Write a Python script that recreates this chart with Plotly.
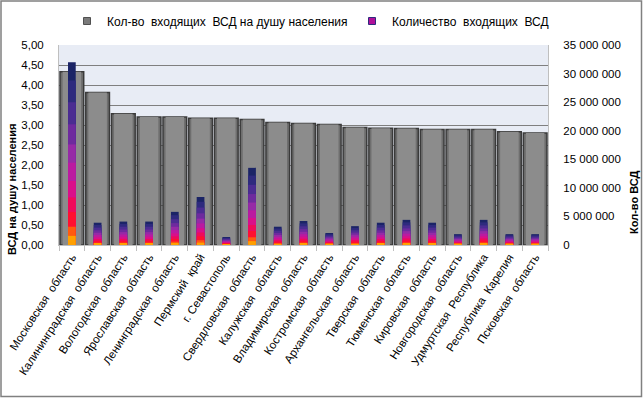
import plotly.graph_objects as go

regions = ["Московская  область", "Калининградская  область", "Вологодская  область",
           "Ярославская  область", "Ленинградская  область", "Пермский  край",
           "г. Севастополь", "Свердловская  область", "Калужская  область",
           "Владимирская  область", "Костромская  область", "Архангельская  область",
           "Тверская  область", "Тюменская  область", "Кировская  область",
           "Новгородская  область", "Удмуртская  Республика", "Республика  Карелия",
           "Псковская  область"]
per_capita = [4.33, 3.81, 3.28, 3.20, 3.20, 3.17, 3.17, 3.14, 3.06, 3.04, 3.01,
              2.94, 2.92, 2.91, 2.89, 2.89, 2.89, 2.83, 2.80]
total_vsd = [32000000, 3900000, 4100000, 4100000, 5800000, 8400000, 1400000,
             13500000, 3200000, 4200000, 2100000, 3300000, 3900000, 4400000,
             3900000, 1900000, 4400000, 1900000, 1900000]
name1 = "Кол-во  входящих  ВСД на душу населения"
name2 = "Количество  входящих  ВСД"

# gradient bands (fraction of bar height, colour) from top to bottom
bands = [(1.00, "#1B2466"), (0.90, "#2E2A7E"), (0.78, "#4B2C92"), (0.66, "#6E2A9E"),
         (0.55, "#962AA6"), (0.45, "#BB1AA0"), (0.35, "#D90F8A"), (0.26, "#F00A5A"),
         (0.18, "#FF1030"), (0.10, "#FF5A10"), (0.05, "#FFA000")]

fig = go.Figure()
fig.add_trace(go.Bar(x=regions, y=per_capita, name=name1, showlegend=False,
                     marker=dict(color="#6E6E6E", line=dict(color="#3A3A3A", width=1.5)),
                     width=0.92, yaxis="y", hoverinfo="skip"))
fig.add_trace(go.Bar(x=regions, y=per_capita, name=name1, showlegend=False,
                     marker=dict(color="#8C8C8C", line=dict(width=0)),
                     width=0.72, yaxis="y"))
for i, (frac, col) in enumerate(bands):
    fig.add_trace(go.Bar(x=regions, y=[v * frac for v in total_vsd],
                         name=name2, showlegend=False,
                         marker=dict(color=col, line=dict(width=0)),
                         width=0.3, yaxis="y2"))
# legend entries with small square symbols
fig.add_trace(go.Scatter(x=[None], y=[None], mode="markers", name=name1, legend="legend",
                         marker=dict(symbol="square", size=7, color="#7A7A7A",
                                     line=dict(color="#505050", width=1))))
fig.add_trace(go.Scatter(x=[None], y=[None], mode="markers", name=name2, legend="legend2",
                         yaxis="y2",
                         marker=dict(symbol="square", size=7, color="#B0109A",
                                     line=dict(color="#2E2A7E", width=1))))

pw, ph = 489, 200
ml, mt = 59, 45
mr = 643 - ml - pw
mb = 398 - mt - ph
W, H = 643, 398


def px_x(p):
    return (p - ml) / pw


def px_y(p):
    return (H - mb - p) / ph


legfont = dict(size=12, family="Liberation Sans")
fig.update_layout(
    width=W, height=H,
    margin=dict(l=ml, r=mr, t=mt, b=mb, autoexpand=False),
    barmode="overlay",
    separators=", ",
    paper_bgcolor="white",
    plot_bgcolor="#E8ECF5",
    font=dict(family="Liberation Sans", size=11, color="#000000"),
    legend=dict(x=px_x(67), xanchor="left", y=px_y(21), yanchor="middle",
                font=legfont, itemwidth=30, bgcolor="rgba(0,0,0,0)"),
    legend2=dict(x=px_x(352), xanchor="left", y=px_y(21), yanchor="middle",
                 font=legfont, itemwidth=30, bgcolor="rgba(0,0,0,0)"),
    xaxis=dict(tickangle=-57, tickfont=dict(size=11.5), showgrid=False, automargin=False,
               ticks="outside", tickson="boundaries", ticklen=5, tickcolor="#BFBFBF",
               showline=True, linecolor="#BFBFBF"),
    yaxis=dict(range=[0, 5], dtick=0.5, tickformat=".2f", showgrid=True, automargin=False,
               gridcolor="#7F7F7F", gridwidth=1, zeroline=False, ticklabelstandoff=12,
               ticks="", showline=True, linecolor="#BFBFBF", mirror=False,
               tickfont=dict(size=11.5)),
    yaxis2=dict(range=[0, 35000000], dtick=5000000, tickformat=",.0f", overlaying="y",
                side="right", showgrid=False, zeroline=False, automargin=False,
                ticklabelstandoff=12, showline=True, linecolor="#BFBFBF",
                tickfont=dict(size=11.5)),
)
fig.add_annotation(text="<b>ВСД на душу населения</b>", xref="paper", yref="paper",
                   x=px_x(12), y=px_y(190), xanchor="center", yanchor="middle",
                   textangle=-90, showarrow=False, font=dict(size=11))
fig.add_annotation(text="<b>Кол-во ВСД</b>", xref="paper", yref="paper",
                   x=px_x(634), y=px_y(202), xanchor="center", yanchor="middle",
                   textangle=-90, showarrow=False, font=dict(size=11))
fig.add_shape(type="rect", xref="paper", yref="paper",
              x0=px_x(1), x1=px_x(641.5), y0=px_y(396.5), y1=px_y(1),
              line=dict(color="#808080", width=1.5), layer="above")
fig.write_html("out.html", config={"displayModeBar": False},
               post_script="document.body.style.margin='0px';")
